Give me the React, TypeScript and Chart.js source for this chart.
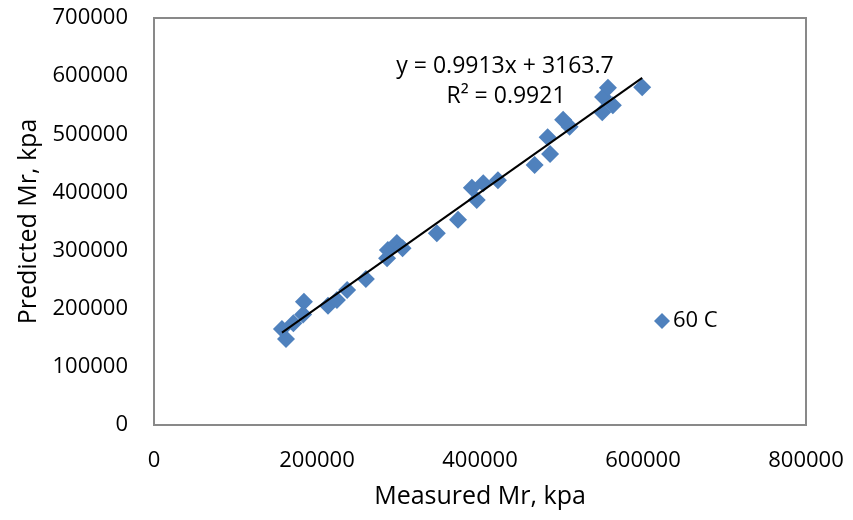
import React, { useEffect, useRef } from "react";
import { Chart, registerables } from "chart.js";

Chart.register(...registerables);

// Measured Mr (kpa) vs predicted Mr (kpa), 60 C
const measured = [
  157000, 162000, 171000, 184000, 183000, 213500, 224500, 237000, 260000,
  286000, 287000, 298000, 305000, 347000, 373000, 390000, 396000, 404000,
  422000, 467000, 483000, 486000, 502000, 510000, 550000, 551000, 557000,
  563000, 599000,
];
const predicted = [
  165000, 148000, 175000, 212000, 190000, 205000, 215000, 232000, 251000,
  287000, 301000, 313000, 304000, 330000, 353000, 408000, 387000, 416000,
  421000, 447000, 495000, 466000, 525000, 513000, 538000, 564000, 580000,
  550000, 581000,
];
const seriesName = "60 C";
const trendSlope = 0.9913;
const trendIntercept = 3163.7;
const trendEquation = "y = 0.9913x + 3163.7";
const trendR2 = "R\u00B2 = 0.9921";
const xTicks = [0, 200000, 400000, 600000, 800000];
const yTicks = [0, 100000, 200000, 300000, 400000, 500000, 600000, 700000];
const xTitle = "Measured Mr, kpa";
const yTitle = "Predicted Mr, kpa";

const FONT = "'Open Sans', sans-serif";
const BLUE = "#4F81BD";

export default function App() {
  const ref = useRef<HTMLCanvasElement | null>(null);

  useEffect(() => {
    const canvas = ref.current;
    if (!canvas) return;
    const points = measured.map((x, i) => ({ x, y: predicted[i] }));
    const xmin = Math.min(...measured);
    const xmax = Math.max(...measured);
    const trend = [
      { x: xmin, y: trendSlope * xmin + trendIntercept },
      { x: xmax, y: trendSlope * xmax + trendIntercept },
    ];

    const overlay = {
      id: "overlay",
      beforeDatasetsDraw(chart: any) {
        const { ctx, chartArea: a } = chart;
        ctx.save();
        ctx.strokeStyle = "#898989";
        ctx.lineWidth = 2;
        ctx.strokeRect(a.left, a.top, a.right - a.left, a.bottom - a.top);
        ctx.restore();
      },
      afterDatasetsDraw(chart: any) {
        const { ctx, chartArea: a } = chart;
        ctx.save();
        ctx.fillStyle = "#000";
        ctx.font = `23px ${FONT}`;
        ctx.textAlign = "center";
        ctx.textBaseline = "middle";
        ctx.fillText(trendEquation, a.left + 351, a.top + 48);
        ctx.fillText(trendR2, a.left + 352, a.top + 78);
        // legend
        const lx = a.left + 508;
        const ly = a.top + 303;
        ctx.fillStyle = BLUE;
        ctx.beginPath();
        ctx.moveTo(lx - 8, ly);
        ctx.lineTo(lx, ly - 8);
        ctx.lineTo(lx + 8, ly);
        ctx.lineTo(lx, ly + 8);
        ctx.closePath();
        ctx.fill();
        ctx.fillStyle = "#000";
        ctx.font = `22px ${FONT}`;
        ctx.textAlign = "left";
        ctx.fillText(seriesName, lx + 11, ly);
        ctx.restore();
      },
    };

    const chart = new Chart(canvas, {
      type: "scatter",
      data: {
        datasets: [
          {
            label: "trend",
            type: "line",
            data: trend,
            borderColor: "#000",
            borderWidth: 2,
            pointRadius: 0,
            showLine: true,
            order: 0,
          } as any,
          {
            label: seriesName,
            data: points,
            pointStyle: "rectRot",
            pointRadius: 9,
            pointBackgroundColor: BLUE,
            pointBorderColor: BLUE,
            pointBorderWidth: 0,
            order: 1,
          },
        ],
      },
      options: {
        animation: false,
        responsive: false,
        maintainAspectRatio: false,
        layout: { padding: { top: 18, right: 47, left: 0, bottom: 0 } },
        plugins: { legend: { display: false }, tooltip: { enabled: false } },
        scales: {
          x: {
            type: "linear",
            min: 0,
            max: 800000,
            afterBuildTicks: (s: any) => {
              s.ticks = xTicks.map((v) => ({ value: v }));
            },
            afterFit: (s: any) => {
              s.height = 95;
              s.paddingLeft = 0;
              s.paddingRight = 0;
            },
            grid: { display: false, drawTicks: false },
            border: { display: false },
            ticks: {
              color: "#000",
              font: { family: FONT, size: 22 },
              padding: 23,
              maxRotation: 0,
              callback: (v: any) => String(v),
            },
            title: {
              display: true,
              text: xTitle,
              color: "#000",
              font: { family: FONT, size: 25 },
              padding: { top: 0, bottom: 8 },
            },
          },
          y: {
            type: "linear",
            min: 0,
            max: 700000,
            afterBuildTicks: (s: any) => {
              s.ticks = yTicks.map((v) => ({ value: v }));
            },
            afterFit: (s: any) => {
              s.width = 154;
              s.paddingTop = 0;
              s.paddingBottom = 0;
            },
            grid: { display: false, drawTicks: false },
            border: { display: false },
            ticks: {
              color: "#000",
              font: { family: FONT, size: 22 },
              padding: 26,
              callback: (v: any) => String(v),
            },
            title: {
              display: true,
              text: yTitle,
              color: "#000",
              font: { family: FONT, size: 25 },
              padding: { top: 14, bottom: 0 },
            },
          },
        },
      },
      plugins: [overlay],
    });
    return () => chart.destroy();
  }, []);

  return (
    <div style={{ position: "fixed", left: 0, top: 0, width: 853, height: 520, background: "#fff" }}>
      <canvas ref={ref} width={853} height={520} style={{ width: 853, height: 520, display: "block" }} />
    </div>
  );
}
